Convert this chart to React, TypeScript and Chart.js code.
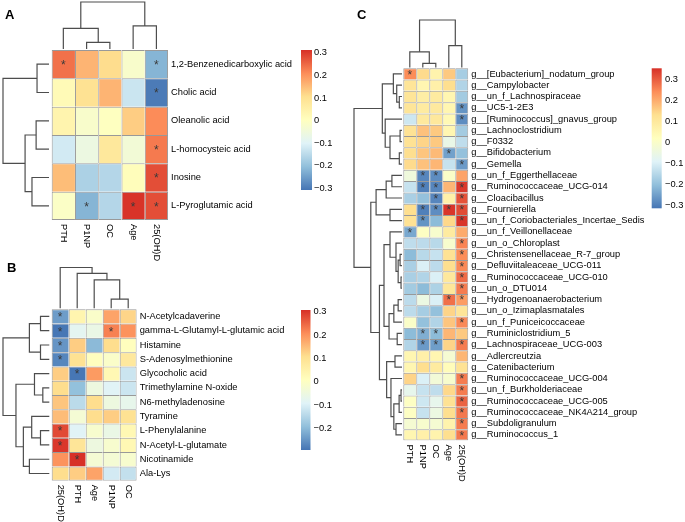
import React, { useEffect, useRef } from 'react';
import { Chart, registerables } from 'chart.js';

Chart.register(...registerables);

const FONT = 'Liberation Sans, Arial, Helvetica, sans-serif';
const PALETTE = ['#4575B4', '#91BFDB', '#E0F3F8', '#FFFFBF', '#FEE090', '#FC8D59', '#D73027'];

// ---------------- Panel A ----------------
const aRowLabels = ['1,2-Benzenedicarboxylic acid', 'Cholic acid', 'Oleanolic acid', 'L-homocysteic acid', 'Inosine', 'L-Pyroglutamic acid'];
const aColLabels = ['PTH', 'P1NP', 'OC', 'Age', '25(OH)D'];
const aValues = [
  [0.24, 0.16, 0.11, -0.02, -0.22],
  [0.02, 0.10, 0.16, -0.13, -0.30],
  [0.04, -0.02, 0.00, 0.13, 0.21],
  [-0.12, -0.06, 0.08, -0.04, 0.23],
  [0.15, -0.17, -0.16, 0.01, 0.28],
  [-0.01, -0.22, -0.16, 0.31, 0.28],
];
const aStars = ['10001', '00001', '00000', '00001', '00001', '01011'];
const aColorRange = [-0.309, 0.313];
const aLegendTicks = [0.3, 0.2, 0.1, 0, -0.1, -0.2, -0.3];
const aRowTree: any = [[0, 1, 0.26], [[2, 3, 0.28], [4, 5, 0.37], 0.52], 1];
const aColTree: any = [[0, [1, 2, 0.14], 0.44], [3, 4, 0.49], 1];

// ---------------- Panel B ----------------
const bRowLabels = ['N-Acetylcadaverine', 'gamma-L-Glutamyl-L-glutamic acid', 'Histamine', 'S-Adenosylmethionine', 'Glycocholic acid', 'Trimethylamine N-oxide', 'N6-methyladenosine', 'Tyramine', 'L-Phenylalanine', 'N-Acetyl-L-glutamate', 'Nicotinamide', 'Ala-Lys'];
const bColLabels = ['25(OH)D', 'PTH', 'Age', 'P1NP', 'OC'];
const bValues = [
  [-0.24, 0.04, -0.01, 0.18, 0.12],
  [-0.29, -0.08, -0.06, 0.22, 0.20],
  [-0.25, 0.13, -0.20, 0.11, 0.01],
  [-0.27, 0.10, 0.01, -0.01, 0.08],
  [0.13, -0.29, 0.19, 0.03, -0.12],
  [0.11, -0.19, -0.05, -0.09, -0.12],
  [0.14, -0.14, 0.11, -0.05, -0.07],
  [0.15, -0.03, 0.11, 0.13, 0.10],
  [0.28, -0.09, -0.02, -0.06, 0.03],
  [0.30, 0.09, -0.05, -0.02, 0.03],
  [0.20, 0.307, -0.03, -0.03, -0.02],
  [0.11, 0.13, 0.18, -0.11, -0.13],
];
const bStars = ['10000', '10010', '10000', '10000', '01000', '00000', '00000', '00000', '10000', '10000', '01000', '00000'];
const bColorRange = [-0.293, 0.307];
const bLegendTicks = [0.3, 0.2, 0.1, 0, -0.1, -0.2];
const bRowTree: any = [[[0, 1, 0.19], [2, 3, 0.19], 0.43], [[4, [5, 6, 0.14], 0.32], [[7, [8, 9, 0.19], 0.38], [10, 11, 0.43], 0.56], 0.72], 1];
const bColTree: any = [0, [1, [2, [3, 4, 0.224], 0.695], 0.858], 1];

// ---------------- Panel C ----------------
const cRowLabels = [
  'g__[Eubacterium]_nodatum_group', 'g__Campylobacter', 'g__un_f_Lachnospiraceae', 'g__UC5-1-2E3',
  'g__[Ruminococcus]_gnavus_group', 'g__Lachnoclostridium', 'g__F0332', 'g__Bifidobacterium', 'g__Gemella',
  'g__un_f_Eggerthellaceae', 'g__Ruminococcaceae_UCG-014', 'g__Cloacibacillus', 'g__Fournierella',
  'g__un_f_Coriobacteriales_Incertae_Sedis', 'g__un_f_Veillonellaceae', 'g__un_o_Chloroplast',
  'g__Christensenellaceae_R-7_group', 'g__Defluviitaleaceae_UCG-011', 'g__Ruminococcaceae_UCG-010',
  'g__un_o_DTU014', 'g__Hydrogenoanaerobacterium', 'g__un_o_Izimaplasmatales', 'g__un_f_Puniceicoccaceae',
  'g__Ruminiclostridium_5', 'g__Lachnospiraceae_UCG-003', 'g__Adlercreutzia', 'g__Catenibacterium',
  'g__Ruminococcaceae_UCG-004', 'g__un_f_Burkholderiaceae', 'g__Ruminococcaceae_UCG-005',
  'g__Ruminococcaceae_NK4A214_group', 'g__Subdoligranulum', 'g__Ruminococcus_1',
];
const cColLabels = ['PTH', 'P1NP', 'OC', 'Age', '25(OH)D'];
const cValues = [
  [0.24, 0.135, 0.06, 0.16, -0.175],
  [0.11, 0.05, 0.07, 0.13, -0.16],
  [0.11, 0.08, 0.09, 0.05, -0.18],
  [0.11, 0.09, 0.095, 0.05, -0.27],
  [-0.12, 0.095, 0.10, 0.04, -0.28],
  [0.12, 0.17, 0.16, 0.05, -0.18],
  [0.12, 0.145, 0.16, -0.06, -0.14],
  [0.13, 0.165, 0.18, -0.25, -0.20],
  [0.135, 0.17, 0.185, -0.13, -0.26],
  [-0.04, -0.29, -0.28, 0.0, 0.21],
  [-0.13, -0.30, -0.29, 0.185, 0.34],
  [-0.17, -0.20, -0.29, 0.07, 0.31],
  [0.13, -0.30, -0.28, 0.345, 0.32],
  [0.12, -0.27, -0.21, 0.14, 0.345],
  [-0.24, 0.01, -0.01, 0.09, 0.20],
  [-0.14, -0.145, -0.15, -0.01, 0.25],
  [-0.21, -0.15, -0.13, 0.12, 0.24],
  [-0.17, -0.10, -0.145, 0.13, 0.245],
  [-0.17, -0.16, -0.10, 0.10, 0.28],
  [-0.18, -0.21, -0.165, 0.105, 0.26],
  [-0.145, -0.05, -0.10, 0.275, 0.22],
  [-0.145, -0.175, -0.20, 0.145, 0.11],
  [0.0, -0.20, -0.16, 0.165, 0.245],
  [-0.21, -0.23, -0.21, 0.185, 0.16],
  [-0.16, -0.26, -0.255, 0.145, 0.26],
  [0.05, 0.07, 0.05, -0.02, 0.185],
  [0.05, 0.13, 0.09, 0.03, 0.12],
  [0.145, -0.10, -0.03, -0.01, 0.26],
  [-0.07, -0.13, -0.14, 0.14, 0.26],
  [0.01, -0.12, -0.07, 0.12, 0.29],
  [0.01, -0.13, -0.05, 0.13, 0.265],
  [-0.02, -0.01, -0.02, 0.06, 0.26],
  [0.05, 0.07, 0.06, 0.13, 0.265],
];
const cStars = [
  '10000', '00000', '00000', '00001', '00001', '00000', '00000', '00010', '00001',
  '01100', '01101', '00101', '01111', '01001', '10000', '00001', '00001', '00001',
  '00001', '00001', '00011', '00000', '00001', '01100', '01101', '00000', '00000',
  '00001', '00001', '00001', '00001', '00001', '00001',
];
const cColorRange = [-0.316, 0.351];
const cLegendTicks = [0.3, 0.2, 0.1, 0, -0.1, -0.2, -0.3];
const cRowTree: any = [
  [[0, [1, [2, 3, 0.056], 0.11], 0.18], [4, [[5, 6, 0.04], [7, 8, 0.056], 0.25], 0.35], 0.41],
  [
    [[[9, 10, 0.21], 11, 0.33], [12, 13, 0.25], 0.54],
    [
      [[14, [15, [[16, 17, 0.04], [18, 19, 0.02], 0.08], 0.125], 0.25], [[[20, 21, 0.08], 22, 0.17], [23, 24, 0.1], 0.27], 0.375],
      [[25, 26, 0.146], [27, [[[28, 29, 0.02], 30, 0.06], [31, 32, 0.125], 0.17], 0.23], 0.32],
      0.47,
    ],
    0.65,
  ],
  1,
];
const cColTree: any = [[0, [1, 2, 0.088], 0.33], [3, 4, 0.46], 1];

// ---------------- Layout (pixels) ----------------
const W = 685;
const H = 522;

const layoutA = { heatLeft: 51.7, heatTop: 50, cellW: 23.27, cellH: 28.33, rowRootX: 3, rowLeafX: 49, colRootY: 2, colLeafY: 49, legendX: 301, legendW: 11, legendTop: 50, legendBottom: 190, legendLabelX: 314, colLabelGap: 4 };
const layoutB = { heatLeft: 51.7, heatTop: 309.3, cellW: 17, cellH: 14.28, rowRootX: 3, rowLeafX: 49.3, colRootY: 267.5, colLeafY: 308.3, legendX: 301, legendW: 9.5, legendTop: 310, legendBottom: 450, legendLabelX: 313.5, colLabelGap: 4 };
const layoutC = { heatLeft: 403.3, heatTop: 68.3, cellW: 13, cellH: 11.28, rowRootX: 354, rowLeafX: 402, colRootY: 20, colLeafY: 67.5, legendX: 651.7, legendW: 10, legendTop: 68.3, legendBottom: 208.3, legendLabelX: 665, colLabelGap: 4 };

const panels = [
  { rows: aRowLabels, cols: aColLabels, values: aValues, stars: aStars, range: aColorRange, legend: aLegendTicks, rowTree: aRowTree, colTree: aColTree, layout: layoutA },
  { rows: bRowLabels, cols: bColLabels, values: bValues, stars: bStars, range: bColorRange, legend: bLegendTicks, rowTree: bRowTree, colTree: bColTree, layout: layoutB },
  { rows: cRowLabels, cols: cColLabels, values: cValues, stars: cStars, range: cColorRange, legend: cLegendTicks, rowTree: cRowTree, colTree: cColTree, layout: layoutC },
];

function hexToRgb(h: string) {
  const n = parseInt(h.slice(1), 16);
  return [(n >> 16) & 255, (n >> 8) & 255, n & 255];
}

function heatColor(v: number, range: number[]) {
  let t = (v - range[0]) / (range[1] - range[0]);
  t = Math.min(1, Math.max(0, t));
  const s = t * 6;
  const k = Math.min(5, Math.floor(s));
  const f = s - k;
  const a = hexToRgb(PALETTE[k]);
  const b = hexToRgb(PALETTE[k + 1]);
  const c = a.map((x, i) => Math.round(x + (b[i] - x) * f));
  return `rgb(${c[0]},${c[1]},${c[2]})`;
}

function walkTree(tree: any, segs: number[][][]): { pos: number; h: number } {
  if (typeof tree === 'number') return { pos: tree + 0.5, h: 0 };
  const l = walkTree(tree[0], segs);
  const r = walkTree(tree[1], segs);
  const hh = tree[2];
  segs.push([[l.h, l.pos], [hh, l.pos], [hh, r.pos], [r.h, r.pos]]);
  return { pos: (l.pos + r.pos) / 2, h: hh };
}

function lineDs(pts: { x: number; y: number }[]) {
  return {
    type: 'line',
    data: pts,
    borderColor: '#4d4d4d',
    borderWidth: 1.2,
    pointRadius: 0,
    pointHoverRadius: 0,
    fill: false,
    tension: 0,
    borderJoinStyle: 'miter',
  };
}

function fmtTick(v: number) {
  return v < 0 ? '\u2212' + String(-v) : String(v);
}

function buildConfig(p: any) {
  const L = p.layout;
  const nR = p.rows.length;
  const nC = p.cols.length;
  const padLeft = L.rowRootX - 1.5;
  const padTop = L.colRootY - 1.5;
  const right = L.heatLeft + nC * L.cellW;
  const bottom = L.heatTop + nR * L.cellH;
  const axisW = W - right;
  const xMin = -(L.heatLeft - padLeft) / L.cellW;
  const yMin = -(L.heatTop - padTop) / L.cellH;
  const rowRootU = (L.heatLeft - L.rowRootX) / L.cellW;
  const rowGapU = (L.heatLeft - L.rowLeafX) / L.cellW;
  const colRootU = (L.heatTop - L.colRootY) / L.cellH;
  const colGapU = (L.heatTop - L.colLeafY) / L.cellH;

  const datasets: any[] = [];
  p.values.forEach((row: number[], i: number) => {
    datasets.push({
      type: 'bar',
      data: row.map((v, j) => ({ x: j + 0.5, y: [i, i + 1] })),
      backgroundColor: row.map((v) => heatColor(v, p.range)),
      borderColor: '#999999',
      borderWidth: row.map((v, j) => ({ left: 1, top: 1, right: j === nC - 1 ? 1 : 0, bottom: i === nR - 1 ? 1 : 0 })),
      borderSkipped: false,
      inflateAmount: 0,
      barPercentage: 1,
      categoryPercentage: 1,
      grouped: false,
    });
  });

  const rowSegs: number[][][] = [];
  walkTree(p.rowTree, rowSegs);
  rowSegs.forEach((seg) => datasets.push(lineDs(seg.map(([h, pos]) => ({ x: -(rowGapU + h * (rowRootU - rowGapU)), y: pos })))));
  const colSegs: number[][][] = [];
  walkTree(p.colTree, colSegs);
  colSegs.forEach((seg) => datasets.push(lineDs(seg.map(([h, pos]) => ({ x: pos, y: -(colGapU + h * (colRootU - colGapU)) })))));

  const overlay = {
    id: 'overlay',
    afterDraw(chart: any) {
      const ctx = chart.ctx;
      const xs = chart.scales.x;
      const ys = chart.scales.y;
      ctx.save();
      // significance marks
      ctx.fillStyle = '#3a3a3a';
      ctx.font = `12px ${FONT}`;
      ctx.textAlign = 'center';
      ctx.textBaseline = 'middle';
      p.stars.forEach((s: string, i: number) => {
        s.split('').forEach((c, j) => {
          if (c === '1') ctx.fillText('*', xs.getPixelForValue(j + 0.5), ys.getPixelForValue(i + 0.5) + 1.5);
        });
      });
      // column labels (rotated, reading downward)
      ctx.fillStyle = '#000';
      ctx.font = `9.3px ${FONT}`;
      ctx.textAlign = 'left';
      ctx.textBaseline = 'middle';
      const yb = ys.getPixelForValue(nR) + L.colLabelGap;
      p.cols.forEach((c: string, j: number) => {
        ctx.save();
        ctx.translate(xs.getPixelForValue(j + 0.5), yb);
        ctx.rotate(Math.PI / 2);
        ctx.fillText(c, 0, 0);
        ctx.restore();
      });
      // colour key
      const g = ctx.createLinearGradient(0, L.legendBottom, 0, L.legendTop);
      PALETTE.forEach((c, k) => g.addColorStop(k / 6, c));
      ctx.fillStyle = g;
      ctx.fillRect(L.legendX, L.legendTop, L.legendW, L.legendBottom - L.legendTop);
      ctx.fillStyle = '#000';
      ctx.textAlign = 'left';
      ctx.textBaseline = 'middle';
      const [lo, hi] = p.range;
      p.legend.forEach((v: number) => {
        const y = L.legendBottom - ((v - lo) / (hi - lo)) * (L.legendBottom - L.legendTop);
        ctx.fillText(fmtTick(v), L.legendLabelX, y);
      });
      ctx.restore();
    },
  };

  return {
    type: 'bar',
    data: { datasets },
    options: {
      responsive: false,
      animation: false,
      events: [],
      layout: {
        autoPadding: false,
        padding: { left: padLeft, top: padTop, right: 0, bottom: H - bottom },
      },
      plugins: { legend: { display: false }, tooltip: { enabled: false } },
      scales: {
        x: {
          type: 'linear',
          display: false,
          offset: false,
          min: xMin,
          max: nC,
          afterBuildTicks: (s: any) => {
            s.ticks = p.cols.map((_: string, j: number) => ({ value: j + 0.5 }));
          },
          ticks: { autoSkip: false, callback: () => '' },
        },
        y: {
          type: 'linear',
          position: 'right',
          reverse: true,
          min: yMin,
          max: nR,
          grid: { display: false, drawTicks: false },
          border: { display: false },
          afterBuildTicks: (s: any) => {
            s.ticks = p.rows.map((_: string, i: number) => ({ value: i + 0.5 }));
          },
          afterFit: (s: any) => {
            s.width = axisW;
            s.paddingTop = 0;
            s.paddingBottom = 0;
          },
          ticks: {
            autoSkip: false,
            padding: 3,
            color: '#000',
            font: { family: FONT, size: 9.3 },
            callback: (_v: any, i: number) => p.rows[i],
          },
        },
      },
    },
    plugins: [overlay],
  };
}

function HeatPanel({ p }: { p: any }) {
  const ref = useRef<HTMLCanvasElement>(null);
  useEffect(() => {
    const chart = new Chart(ref.current as HTMLCanvasElement, buildConfig(p) as any);
    return () => chart.destroy();
  }, [p]);
  return <canvas ref={ref} width={W} height={H} style={{ position: 'absolute', left: 0, top: 0, width: W, height: H }} />;
}

const letterStyle = (left: number, top: number): React.CSSProperties => ({
  position: 'absolute',
  left,
  top,
  fontFamily: FONT,
  fontWeight: 'bold',
  fontSize: 13,
  lineHeight: '13px',
  color: '#000',
});

export default function App() {
  return (
    <div style={{ position: 'fixed', left: 0, top: 0, width: W, height: H, background: '#fff', overflow: 'hidden' }}>
      {panels.map((p, i) => (
        <HeatPanel key={i} p={p} />
      ))}
      <div style={letterStyle(5, 8)}>A</div>
      <div style={letterStyle(7, 261)}>B</div>
      <div style={letterStyle(357, 8)}>C</div>
    </div>
  );
}
